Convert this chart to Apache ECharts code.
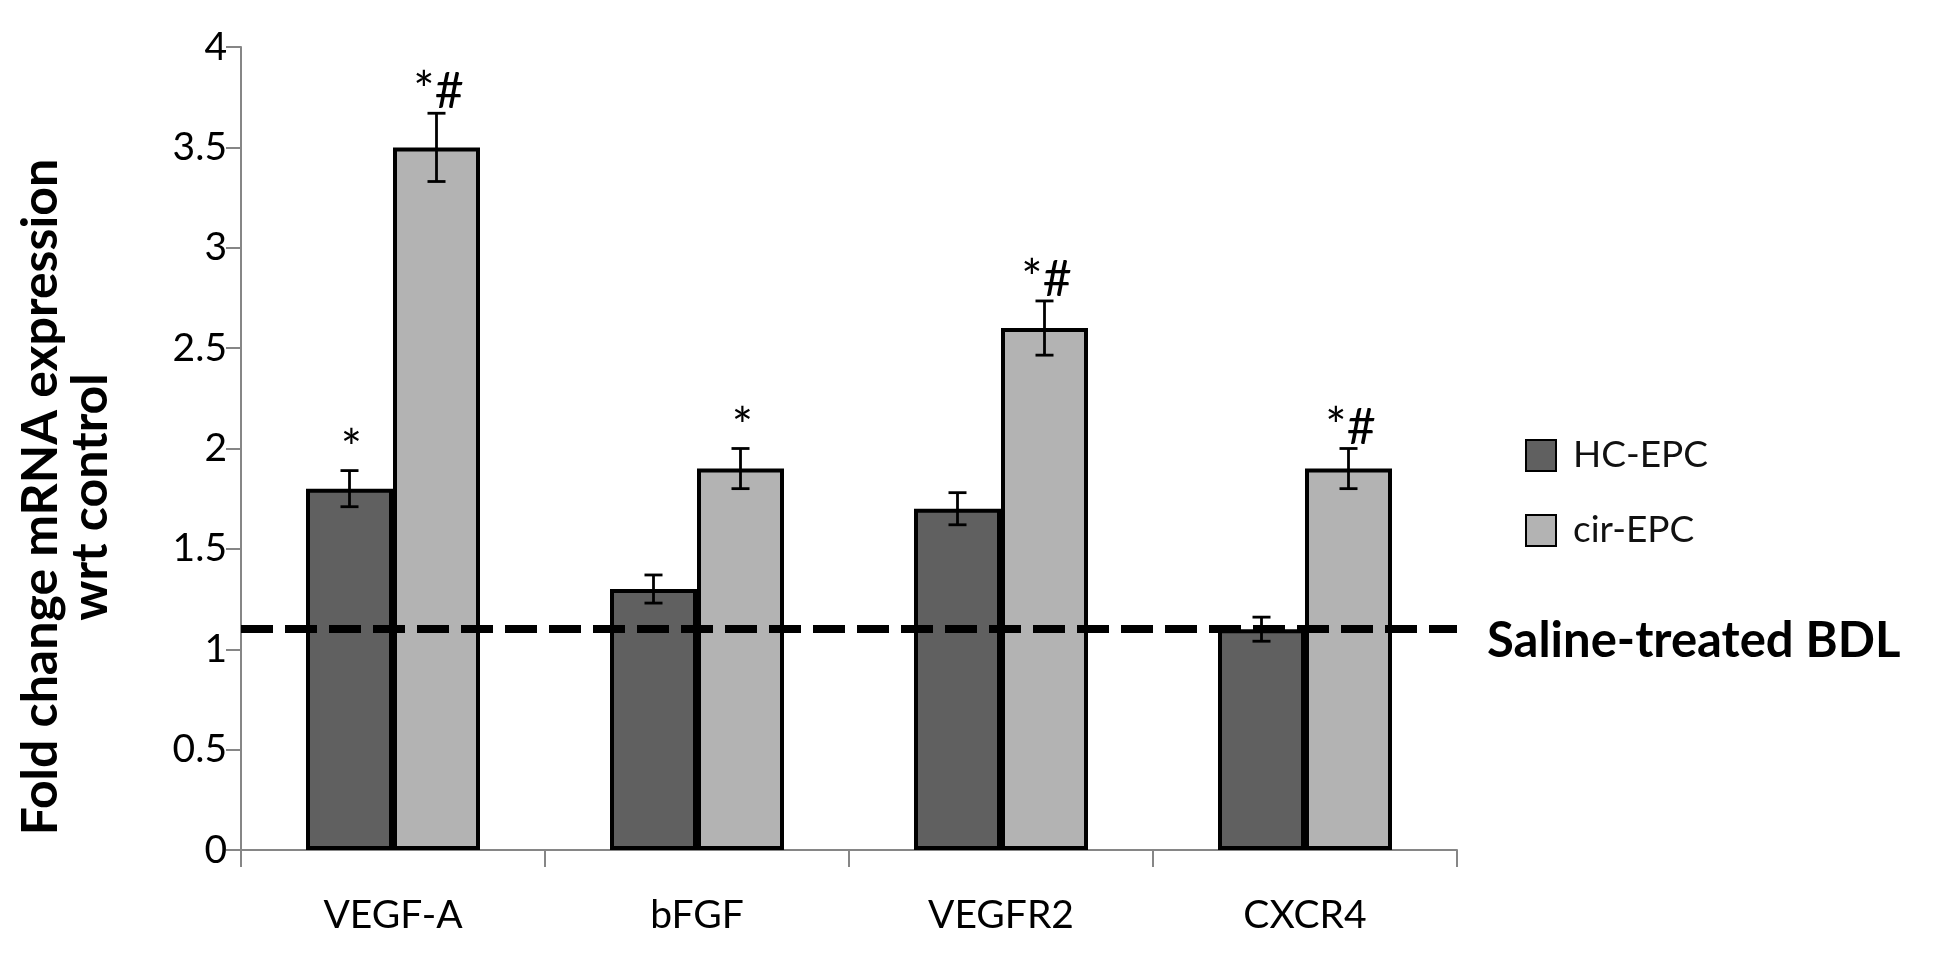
<!DOCTYPE html>
<html>
<head>
<meta charset="utf-8">
<script src="https://cdn.jsdelivr.net/npm/echarts@6/dist/echarts.min.js"></script>
<style>
html,body{margin:0;padding:0;background:#fff;}
#chart{width:1950px;height:956px;}
</style>
</head>
<body>
<div id="chart"></div>
<script>
// ---- data ----
const categories = ['VEGF-A', 'bFGF', 'VEGFR2', 'CXCR4'];
const seriesNames = ['HC-EPC', 'cir-EPC'];
const hcValues = [1.8, 1.3, 1.7, 1.1];
const hcErrors = [0.09, 0.07, 0.08, 0.06];
const cirValues = [3.5, 1.9, 2.6, 1.9];
const cirErrors = [0.17, 0.1, 0.135, 0.1];
const hcMarks = ['*', '', '', ''];
const cirMarks = ['*#', '*', '*#', '*#'];
const referenceLevel = 1.1;
const referenceLabel = 'Saline-treated BDL';
const yTicks = { min: 0, max: 4, interval: 0.5 };
const yTitle = 'Fold change mRNA expression\nwrt control';

// ---- style ----
const FONT = 'Lato';
const BAR_W = 87;
const AXIS_GRAY = '#868686';

const chart = echarts.init(document.getElementById('chart'), null, { renderer: 'canvas' });

function errData(vals, errs) {
  return vals.map((v, i) => [i, v, errs[i]]);
}
function markData(vals, errs, marks) {
  return vals.map((v, i) => [i, v + errs[i], marks[i]]);
}
function errRender(sign) {
  return function (params, api) {
    const c = api.value(0), v = api.value(1), e = api.value(2);
    const x = api.coord([c, 0])[0] + sign * BAR_W / 2;
    const yt = api.coord([c, v + e])[1];
    const yb = api.coord([c, v - e])[1];
    const cap = 9;
    const st = { stroke: '#000', lineWidth: 2.8 };
    return {
      type: 'group',
      children: [
        { type: 'line', shape: { x1: x, y1: yt, x2: x, y2: yb }, style: st },
        { type: 'line', shape: { x1: x - cap, y1: yt, x2: x + cap, y2: yt }, style: st },
        { type: 'line', shape: { x1: x - cap, y1: yb, x2: x + cap, y2: yb }, style: st }
      ]
    };
  };
}
function markRender(sign) {
  return function (params, api) {
    const c = api.value(0), top = api.value(1);
    const txt = api.value(2);
    if (!txt) return null;
    const x = api.coord([c, 0])[0] + sign * BAR_W / 2;
    const y = api.coord([c, top])[1];
    return {
      type: 'text',
      style: {
        text: txt, x: x + 2, y: y + 4,
        textAlign: 'center', textVerticalAlign: 'bottom',
        font: '50px ' + FONT, fill: '#000'
      }
    };
  };
}

const option = {
  backgroundColor: '#fff',
  animation: false,
  grid: { left: 241, right: 493, top: 47, bottom: 106, containLabel: false },
  legend: {
    data: seriesNames,
    orient: 'vertical',
    left: 1520,
    top: 432,
    itemWidth: 30,
    itemHeight: 31,
    itemGap: 38,
    icon: 'rect',
    textStyle: { fontFamily: FONT, fontSize: 37, color: '#111', padding: [0, 0, 0, 12] }
  },
  xAxis: {
    type: 'category',
    data: categories,
    axisLine: { show: true, lineStyle: { color: AXIS_GRAY, width: 2 } },
    axisTick: { show: true, length: 17, lineStyle: { color: AXIS_GRAY, width: 2 } },
    axisLabel: { fontFamily: FONT, fontSize: 39, color: '#000', margin: 46 },
    splitLine: { show: false }
  },
  yAxis: {
    type: 'value',
    min: yTicks.min, max: yTicks.max, interval: yTicks.interval,
    axisLine: { show: true, lineStyle: { color: AXIS_GRAY, width: 2 } },
    axisTick: { show: true, length: 15, lineStyle: { color: AXIS_GRAY, width: 2 } },
    axisLabel: { fontFamily: FONT, fontSize: 39, color: '#000', margin: 14 },
    splitLine: { show: false }
  },
  graphic: [{
    type: 'text',
    x: 66, y: 497,
    rotation: Math.PI / 2,
    style: {
      text: yTitle,
      textAlign: 'center', textVerticalAlign: 'middle',
      font: 'bold 50px ' + FONT, lineHeight: 50, fill: '#000'
    }
  }],
  series: [
    {
      name: seriesNames[0], type: 'bar', data: hcValues,
      barWidth: BAR_W, barGap: '0%',
      itemStyle: { color: '#606060', borderColor: '#000', borderWidth: 4 },
      z: 2,
      markLine: {
        silent: true, symbol: 'none', z: 5,
        data: [{ yAxis: referenceLevel }],
        lineStyle: { color: '#000', type: [32, 12], width: 8 },
        label: {
          show: true, position: 'end', formatter: referenceLabel,
          fontFamily: FONT, fontWeight: 'bold', fontSize: 49, color: '#000',
          distance: 30, verticalAlign: 'top', lineHeight: 25
        }
      }
    },
    {
      name: seriesNames[1], type: 'bar', data: cirValues,
      barWidth: BAR_W, barGap: '0%',
      itemStyle: { color: '#b3b3b3', borderColor: '#000', borderWidth: 4 },
      z: 2
    },
    { type: 'custom', name: 'errHC', data: errData(hcValues, hcErrors), renderItem: errRender(-1), z: 4, silent: true },
    { type: 'custom', name: 'errCir', data: errData(cirValues, cirErrors), renderItem: errRender(1), z: 4, silent: true },
    { type: 'custom', name: 'markHC', data: markData(hcValues, hcErrors, hcMarks), renderItem: markRender(-1), z: 4, silent: true },
    { type: 'custom', name: 'markCir', data: markData(cirValues, cirErrors, cirMarks), renderItem: markRender(1), z: 4, silent: true }
  ]
};
chart.setOption(option);
</script>
</body>
</html>
